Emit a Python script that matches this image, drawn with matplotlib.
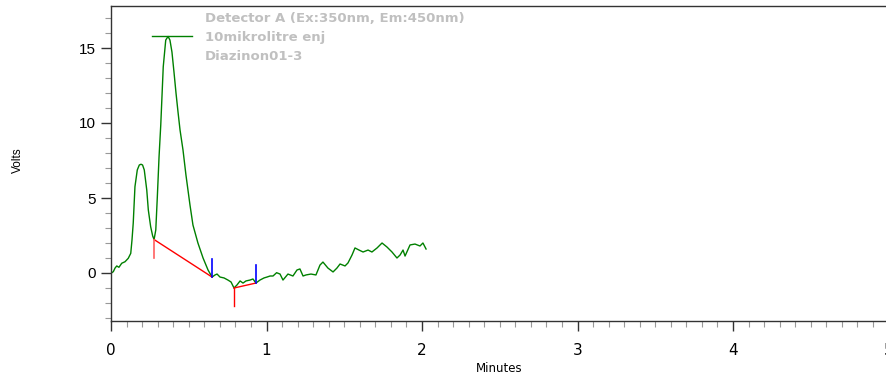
import matplotlib
matplotlib.use("Agg")
import matplotlib.pyplot as plt
from matplotlib.ticker import MultipleLocator

# Trace (minutes, volts)
time_min = [0.000, 0.015, 0.026, 0.037, 0.051, 0.069, 0.090, 0.111, 0.127, 0.135,
            0.143, 0.154, 0.169, 0.182, 0.193, 0.203, 0.214, 0.230, 0.240, 0.255,
            0.268, 0.277, 0.288, 0.298, 0.309, 0.320, 0.336, 0.352, 0.367, 0.379,
            0.392, 0.405, 0.418, 0.431, 0.444, 0.463, 0.482, 0.508, 0.527, 0.559,
            0.592, 0.624, 0.650, 0.669, 0.682, 0.701, 0.727, 0.752, 0.772, 0.791,
            0.810, 0.830, 0.849, 0.868, 0.894, 0.913, 0.932, 0.958, 0.984, 1.003,
            1.023, 1.042, 1.065, 1.087, 1.106, 1.138, 1.170, 1.196, 1.215, 1.235,
            1.254, 1.286, 1.318, 1.344, 1.363, 1.395, 1.428, 1.453, 1.473, 1.505,
            1.524, 1.550, 1.569, 1.595, 1.621, 1.653, 1.678, 1.711, 1.743, 1.775,
            1.807, 1.839, 1.859, 1.878, 1.891, 1.923, 1.955, 1.987, 2.006, 2.026]
volts = [-0.02, 0.09, 0.33, 0.47, 0.38, 0.65, 0.75, 0.98, 1.31, 2.20,
         3.33, 5.75, 6.87, 7.20, 7.25, 7.20, 6.87, 5.53, 4.20, 3.09,
         2.47, 2.23, 2.87, 5.09, 7.75, 9.87, 13.75, 15.53, 15.77, 15.53,
         14.73, 13.40, 12.00, 10.73, 9.53, 8.20, 6.53, 4.53, 3.20, 2.00,
         1.00, 0.20, -0.27, -0.13, -0.07, -0.27, -0.33, -0.47, -0.60, -1.00,
         -0.80, -0.53, -0.67, -0.53, -0.47, -0.40, -0.67, -0.47, -0.33, -0.27,
         -0.20, -0.20, 0.02, -0.07, -0.47, -0.07, -0.20, 0.20, 0.27, -0.20,
         -0.13, -0.07, -0.13, 0.53, 0.73, 0.33, 0.07, 0.33, 0.60, 0.47,
         0.67, 1.20, 1.67, 1.53, 1.40, 1.53, 1.40, 1.67, 2.00, 1.73,
         1.40, 1.00, 1.20, 1.53, 1.13, 1.87, 1.93, 1.80, 2.00, 1.60]

# Integration baselines (start/end of peaks)
baseline1_t = [0.277, 0.650]
baseline1_v = [2.23, -0.27]
baseline2_t = [0.791, 0.932]
baseline2_v = [-1.00, -0.67]
start_marks_t = [0.277, 0.791]
start_marks_v = [2.23, -1.00]
end_marks_t = [0.650, 0.932]
end_marks_v = [-0.27, -0.67]
peak_t = 0.367
peak_v = 15.80

legend_lines = ["Detector A (Ex:350nm, Em:450nm)", "10mikrolitre enj", "Diazinon01-3"]

W, H = 886, 379
fig = plt.figure(figsize=(W / 100, H / 100), dpi=100)
ax = fig.add_axes([111 / W, (H - 321) / H, (888.5 - 111) / W, (321 - 6) / H])

green = "#008000"
ax.plot(time_min, volts, color=green, lw=1.0)
ax.plot(baseline1_t, baseline1_v, color="red", lw=1.0)
ax.plot(baseline2_t, baseline2_v, color="red", lw=1.0)
mark = 1.2
ax.plot([start_marks_t[0]] * 2, [start_marks_v[0], start_marks_v[0] - mark], color="#ff6060", lw=1.2)
ax.plot([start_marks_t[1]] * 2, [start_marks_v[1], start_marks_v[1] - mark], color="red", lw=1.0)
for t, v in zip(end_marks_t, end_marks_v):
    ax.plot([t, t], [v, v + mark], color="blue", lw=1.2)
ax.plot([peak_t - 0.103, peak_t + 0.154], [peak_v, peak_v], color=green, lw=1.0)

ax.set_xlim(0, 5)
ax.set_ylim(-3.2, 17.8)
ax.xaxis.set_major_locator(MultipleLocator(1))
ax.xaxis.set_minor_locator(MultipleLocator(0.1))
ax.yaxis.set_major_locator(MultipleLocator(5))
ax.yaxis.set_minor_locator(MultipleLocator(1))
ax.tick_params(which="major", length=7, width=1, color="#333333", direction="out")
ax.tick_params(which="minor", length=4, width=0.8, color="#999999", direction="out")
ax.tick_params(axis="y", labelsize=11, pad=4)
ax.tick_params(axis="x", labelsize=11, pad=9)
for lab in ax.get_xticklabels():
    lab.set_family(["Liberation Sans Narrow", "DejaVu Sans"])
for lab in ax.get_yticklabels():
    lab.set_family(["Liberation Sans", "DejaVu Sans"])
for s in ["left", "bottom", "top"]:
    ax.spines[s].set_color("#333333")
    ax.spines[s].set_linewidth(1.0)
ax.spines["right"].set_visible(False)

ax.set_xlabel("Minutes", fontsize=8.5, family=["Liberation Sans Narrow", "DejaVu Sans"])
ax.xaxis.set_label_coords((499 - 111) / (888.5 - 111), -(368 - 321) / (321 - 6))
ax.xaxis.label.set_va("center")
ax.set_ylabel("Volts", fontsize=8.5, family=["Liberation Sans", "DejaVu Sans"])
ax.yaxis.set_label_coords(-(111 - 18) / (888.5 - 111), (321 - 160) / (321 - 6))
ax.yaxis.label.set_va("center")

for i, txt in enumerate(legend_lines):
    fig.text(205 / W, 1 - (18 + 19 * i) / H, txt, fontsize=9.5, fontweight="bold",
             color="#c0c0c0", family=["DejaVu Sans"], va="center", ha="left")

fig.savefig("out.png", dpi=100)
